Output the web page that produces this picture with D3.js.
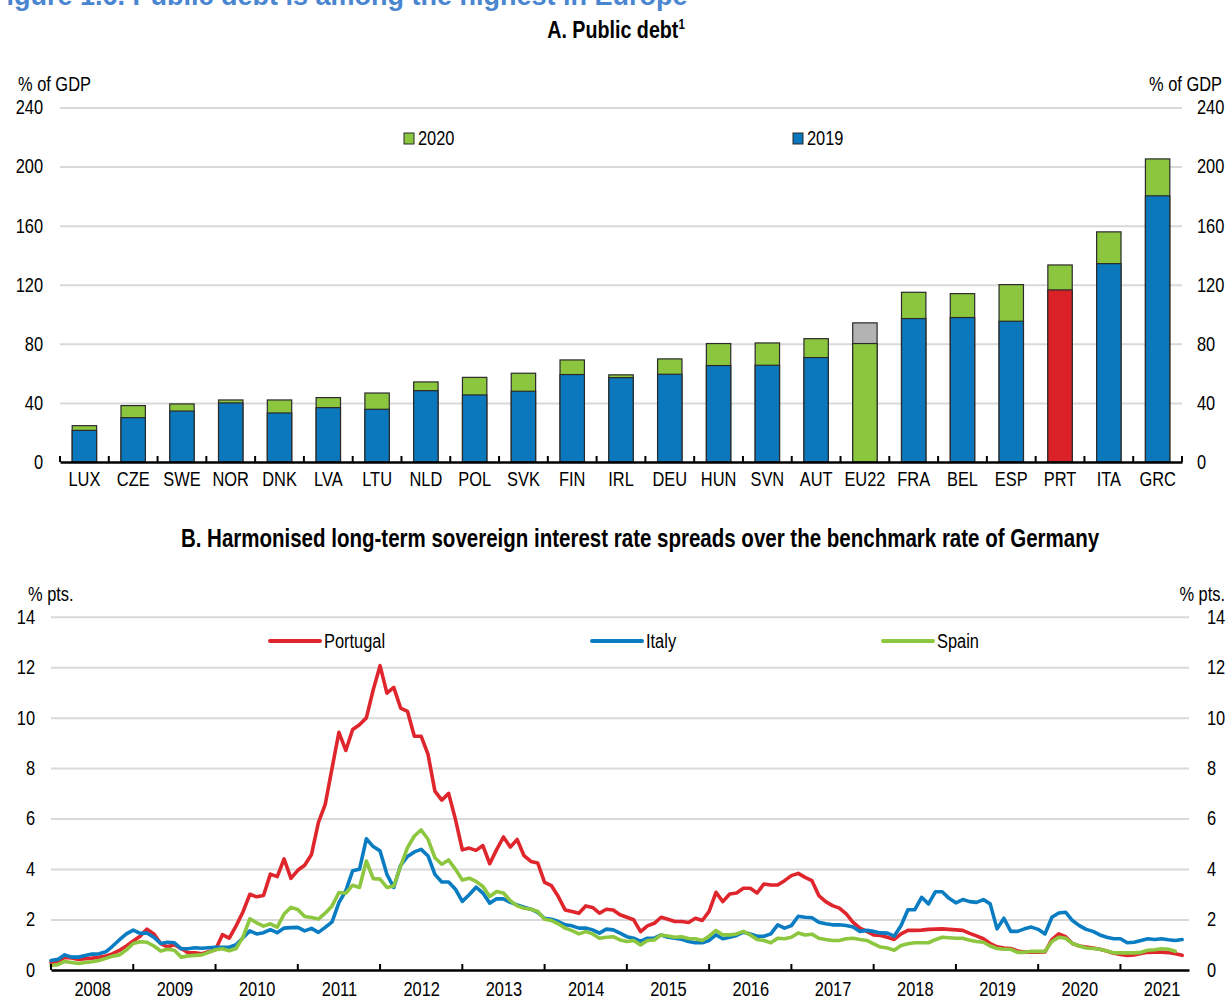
<!DOCTYPE html>
<html><head><meta charset="utf-8">
<script src="https://cdn.jsdelivr.net/npm/d3@7"></script>
<style>
body{margin:0;background:#fff}
svg{display:block}
text{font-family:"Liberation Sans Narrow","Arial Narrow","Liberation Sans",Arial,sans-serif;fill:#000}
</style></head>
<body><svg id="c" width="1229" height="996"></svg>
<script>
// ---------- DATA ----------
const categories = ["LUX","CZE","SWE","NOR","DNK","LVA","LTU","NLD","POL","SVK","FIN","IRL","DEU","HUN","SVN","AUT","EU22","FRA","BEL","ESP","PRT","ITA","GRC"];
const debt2019 = [21.4,30.0,34.5,40.0,33.2,36.8,35.7,48.3,45.4,47.9,59.2,57.1,59.4,65.3,65.5,70.7,80.2,97.1,97.8,95.3,116.5,134.3,180.2];
const debt2020 = [24.6,38.2,39.3,42.0,42.0,43.6,46.7,54.2,57.3,60.1,69.1,59.0,69.8,80.2,80.6,83.5,94.2,114.9,114.0,120.1,133.4,155.8,205.2];
const debtTicks = [0,40,80,120,160,200,240];
const seriesA = ["2020","2019"];

const years = [2008,2009,2010,2011,2012,2013,2014,2015,2016,2017,2018,2019,2020,2021];
const spreadTicks = [0,2,4,6,8,10,12,14];
const seriesB = ["Portugal","Italy","Spain"];
// monthly, Jan 2008 onwards
const portugal = [
0.30,0.34,0.50,0.48,0.42,0.45,0.47,0.50,0.55,0.65,0.78,0.95,
1.15,1.34,1.62,1.43,1.05,0.92,1.00,0.85,0.68,0.68,0.64,0.72,
0.80,1.40,1.26,1.75,2.30,3.00,2.90,2.95,3.80,3.70,4.40,3.63,
3.95,4.15,4.58,5.84,6.56,8.00,9.42,8.70,9.53,9.72,9.99,11.10,
12.06,10.97,11.20,10.38,10.25,9.26,9.26,8.54,7.09,6.73,7.00,5.97,
4.76,4.83,4.74,4.93,4.21,4.77,5.27,4.87,5.17,4.53,4.30,4.24,
3.47,3.34,2.91,2.38,2.32,2.25,2.54,2.48,2.25,2.41,2.38,2.19,
2.09,1.99,1.52,1.75,1.85,2.09,2.01,1.92,1.92,1.88,2.05,1.96,
2.32,3.08,2.71,3.01,3.05,3.24,3.24,3.05,3.41,3.37,3.37,3.54,
3.74,3.83,3.67,3.54,2.95,2.71,2.55,2.45,2.22,1.89,1.66,1.53,
1.39,1.37,1.30,1.21,1.43,1.57,1.57,1.58,1.61,1.62,1.63,1.61,
1.59,1.57,1.45,1.35,1.24,1.05,0.92,0.87,0.85,0.75,0.71,0.71,
0.71,0.72,1.20,1.43,1.32,1.05,0.95,0.91,0.87,0.82,0.75,0.66,
0.62,0.58,0.60,0.65,0.70,0.71,0.71,0.69,0.64,0.58];
const italy = [
0.38,0.42,0.60,0.51,0.51,0.57,0.63,0.64,0.72,0.95,1.20,1.43,
1.58,1.45,1.47,1.30,1.05,1.10,1.08,0.84,0.84,0.88,0.86,0.88,
0.90,0.90,0.90,1.00,1.28,1.55,1.43,1.48,1.60,1.48,1.66,1.68,
1.69,1.55,1.65,1.49,1.69,1.91,2.67,3.14,3.93,3.99,5.20,4.89,
4.72,3.79,3.27,4.15,4.50,4.68,4.78,4.52,3.79,3.49,3.49,3.20,
2.72,2.98,3.28,3.05,2.65,2.82,2.82,2.68,2.58,2.49,2.41,2.28,
2.05,2.01,1.92,1.79,1.75,1.66,1.66,1.59,1.46,1.62,1.59,1.46,
1.32,1.26,1.13,1.26,1.26,1.39,1.30,1.26,1.22,1.13,1.08,1.08,
1.17,1.39,1.24,1.30,1.37,1.50,1.43,1.34,1.34,1.43,1.79,1.66,
1.76,2.13,2.09,2.07,1.89,1.83,1.79,1.79,1.76,1.70,1.53,1.57,
1.53,1.47,1.46,1.34,1.76,2.39,2.39,2.88,2.62,3.10,3.10,2.84,
2.66,2.79,2.71,2.68,2.79,2.62,1.63,2.05,1.53,1.53,1.63,1.70,
1.61,1.43,2.09,2.26,2.29,1.96,1.76,1.61,1.53,1.39,1.30,1.24,
1.24,1.08,1.10,1.17,1.24,1.21,1.24,1.20,1.17,1.21];
const spain = [
0.18,0.21,0.34,0.30,0.26,0.30,0.33,0.38,0.46,0.55,0.60,0.80,
1.05,1.12,1.10,0.95,0.75,0.82,0.78,0.51,0.56,0.58,0.60,0.70,
0.80,0.84,0.76,0.85,1.30,2.03,1.87,1.74,1.83,1.70,2.22,2.48,
2.40,2.12,2.08,2.02,2.25,2.54,3.07,3.04,3.36,3.27,4.32,3.62,
3.60,3.27,3.33,4.12,4.85,5.31,5.55,5.18,4.45,4.19,4.36,3.99,
3.57,3.64,3.51,3.31,2.91,3.11,3.05,2.75,2.54,2.45,2.41,2.32,
2.01,1.96,1.83,1.66,1.56,1.43,1.52,1.43,1.26,1.30,1.32,1.19,
1.13,1.17,0.99,1.17,1.19,1.39,1.35,1.30,1.32,1.25,1.24,1.17,
1.34,1.57,1.39,1.39,1.43,1.53,1.39,1.21,1.17,1.08,1.26,1.24,
1.30,1.47,1.39,1.42,1.26,1.21,1.17,1.17,1.24,1.26,1.21,1.17,
1.04,0.91,0.87,0.78,0.97,1.04,1.08,1.08,1.08,1.20,1.30,1.28,
1.26,1.26,1.18,1.13,1.10,0.95,0.85,0.82,0.82,0.70,0.70,0.74,
0.74,0.74,1.13,1.30,1.26,1.05,0.95,0.87,0.85,0.82,0.75,0.68,
0.68,0.68,0.68,0.70,0.78,0.80,0.84,0.82,0.74];

// ---------- STYLE ----------
const BLUE="#0b77bd", GREEN="#8cc63f", RED="#da2128", GREY="#b3b3b3";
const LBLUE="#0a7dc2", LGREEN="#8dc63f", LRED="#e0262d";
const GRID="#d9d9d9";
const svg = d3.select("#c");

// figure title (cut at top)
svg.append("text").attr("x",-10).attr("y",5)
  .style("font-family","'Liberation Sans',Arial,sans-serif").style("font-weight","bold")
  .style("font-size","27px").style("fill","#4a86d0").attr("class","nocond")
  .text("Figure 1.6. Public debt is among the highest in Europe");

// ---------- PANEL A ----------
const xA = d3.scaleBand().domain(categories).range([60,1182]).paddingInner(0.5).paddingOuter(0.25);
const yA = d3.scaleLinear().domain([0,240]).range([462,107.5]);
const gA = svg.append("g");

const tA = svg.append("text").attr("x",616).attr("y",38).attr("text-anchor","middle")
  .style("font-weight","bold").style("font-size","24px");
tA.append("tspan").text("A. Public debt");
tA.append("tspan").attr("dy",-9).style("font-size","14px").text("1");

// gridlines
gA.append("g").attr("transform","translate(60,0)")
  .call(d3.axisLeft(yA).tickValues(debtTicks.filter(d=>d>0)).tickSize(-(1182-60)).tickFormat(""))
  .call(g=>{g.select(".domain").remove(); g.selectAll("line").attr("stroke",GRID).attr("stroke-width",2);});
// y labels
gA.append("g").attr("transform","translate(46,0)")
  .call(d3.axisLeft(yA).tickValues(debtTicks).tickSize(0).tickPadding(3))
  .call(g=>{g.select(".domain").remove(); g.selectAll("text").style("font-size","20px").attr("fill","#000");});
gA.append("g").attr("transform","translate(1194,0)")
  .call(d3.axisRight(yA).tickValues(debtTicks).tickSize(0).tickPadding(3))
  .call(g=>{g.select(".domain").remove(); g.selectAll("text").style("font-size","20px").attr("fill","#000");});
gA.append("text").attr("x",18).attr("y",91).style("font-size","20px").text("% of GDP");
gA.append("text").attr("x",1222).attr("y",91).attr("text-anchor","end").style("font-size","20px").text("% of GDP");

// bars
const c2020 = c => c==="EU22" ? GREY : GREEN;
const c2019 = c => c==="EU22" ? GREEN : (c==="PRT" ? RED : BLUE);
const barData = categories.map((c,i)=>({c, v19:debt2019[i], v20:debt2020[i]}));
gA.selectAll("rect.b20").data(barData).join("rect").attr("class","b20")
  .attr("x",d=>xA(d.c)).attr("width",xA.bandwidth())
  .attr("y",d=>yA(d.v20)).attr("height",d=>yA(0)-yA(d.v20))
  .attr("fill",d=>c2020(d.c)).attr("stroke","#2a2a2a").attr("stroke-width",1.2);
gA.selectAll("rect.b19").data(barData).join("rect").attr("class","b19")
  .attr("x",d=>xA(d.c)).attr("width",xA.bandwidth())
  .attr("y",d=>yA(d.v19)).attr("height",d=>yA(0)-yA(d.v19))
  .attr("fill",d=>c2019(d.c)).attr("stroke","#2a2a2a").attr("stroke-width",1.2);

// x axis
gA.append("g").attr("transform","translate(0,462)")
  .call(d3.axisBottom(xA).tickSize(0).tickPadding(10))
  .call(g=>{g.select(".domain").attr("stroke","#000").attr("stroke-width",2.5);
            g.selectAll("text").style("font-size","20px").attr("fill","#000");});
const step = xA.step();
const bounds = d3.range(categories.length+1).map(i=> i===0 ? xA.range()[0] : xA(categories[i-1]) + xA.bandwidth() + (step - xA.bandwidth())/2);
gA.selectAll("line.tk").data(bounds).join("line").attr("class","tk")
  .attr("x1",d=>d).attr("x2",d=>d).attr("y1",yA(0)).attr("y2",yA(0)-6)
  .attr("stroke","#000").attr("stroke-width",2);

// legend A
const legA = [{k:seriesA[0],x:404,col:GREEN},{k:seriesA[1],x:793,col:BLUE}];
legA.forEach(l=>{
  gA.append("rect").attr("x",l.x).attr("y",133).attr("width",10).attr("height",11)
    .attr("fill",l.col).attr("stroke","#2a2a2a").attr("stroke-width",1);
  gA.append("text").attr("x",l.x+14).attr("y",145).style("font-size","20px").text(l.k);
});

// ---------- PANEL B ----------
const nM = 166;
const xB = d3.scaleLinear().domain([0,nM]).range([51,1189]);
const yB = d3.scaleLinear().domain([0,14]).range([970,616.7]);
const gB = svg.append("g");

svg.append("text").attr("x",640).attr("y",547).attr("text-anchor","middle")
  .style("font-weight","bold").style("font-size","25px")
  .text("B. Harmonised long-term sovereign interest rate spreads over the benchmark rate of Germany");

gB.append("g").attr("transform","translate(51,0)")
  .call(d3.axisLeft(yB).tickValues(spreadTicks.filter(d=>d>0)).tickSize(-(1189-51)).tickFormat(""))
  .call(g=>{g.select(".domain").remove(); g.selectAll("line").attr("stroke",GRID).attr("stroke-width",2);});
gB.append("g").attr("transform","translate(38,0)")
  .call(d3.axisLeft(yB).tickValues(spreadTicks).tickSize(0).tickPadding(3))
  .call(g=>{g.select(".domain").remove(); g.selectAll("text").style("font-size","20px").attr("fill","#000");});
gB.append("g").attr("transform","translate(1204,0)")
  .call(d3.axisRight(yB).tickValues(spreadTicks).tickSize(0).tickPadding(3))
  .call(g=>{g.select(".domain").remove(); g.selectAll("text").style("font-size","20px").attr("fill","#000");});
gB.append("text").attr("x",28).attr("y",601).style("font-size","20px").text("% pts.");
gB.append("text").attr("x",1225).attr("y",601).attr("text-anchor","end").style("font-size","20px").text("% pts.");

const line = d3.line().defined(d=>d!=null).x((d,i)=>xB(i)).y(d=>yB(d)).curve(d3.curveLinear);
const seriesData = [{k:seriesB[0],v:portugal,col:LRED},{k:seriesB[1],v:italy,col:LBLUE},{k:seriesB[2],v:spain,col:LGREEN}];
gB.selectAll("path.ln").data(seriesData).join("path").attr("class","ln")
  .attr("d",d=>line(d.v)).attr("fill","none").attr("stroke",d=>d.col)
  .attr("stroke-width",3.6).attr("stroke-linejoin","round").attr("stroke-linecap","round");

// x axis B
const yearCenters = years.map((y,i)=>i*12+6);
gB.append("g").attr("transform","translate(0,970)")
  .call(d3.axisBottom(xB).tickValues(yearCenters).tickSize(0).tickPadding(12).tickFormat((d,i)=>years[i]))
  .call(g=>{g.select(".domain").attr("stroke","#000").attr("stroke-width",2.5);
            g.selectAll("text").style("font-size","20px").attr("fill","#000");});
const yearBounds = years.map((y,i)=>i*12);
gB.selectAll("line.tk").data(yearBounds).join("line").attr("class","tk")
  .attr("x1",d=>xB(d)).attr("x2",d=>xB(d)).attr("y1",970).attr("y2",964)
  .attr("stroke","#000").attr("stroke-width",2);

// legend B
const legB = [{x:270,col:LRED,k:seriesB[0]},{x:592,col:LBLUE,k:seriesB[1]},{x:883,col:LGREEN,k:seriesB[2]}];
legB.forEach(l=>{
  gB.append("line").attr("x1",l.x).attr("x2",l.x+50).attr("y1",641).attr("y2",641)
    .attr("stroke",l.col).attr("stroke-width",4).attr("stroke-linecap","round");
  gB.append("text").attr("x",l.x+54).attr("y",648).style("font-size","20px").text(l.k);
});

// condense text if no narrow font installed
(function(){
  const c=document.createElement('canvas').getContext('2d');
  c.font='20px "Liberation Sans Narrow", monospace'; const a=c.measureText('LUX CZE 2020 abc').width;
  c.font='20px monospace'; const b=c.measureText('LUX CZE 2020 abc').width;
  if (Math.abs(a-b)>0.5) return;
  d3.selectAll("text").filter(function(){return !this.classList.contains("nocond");}).each(function(){
    const w=this.getComputedTextLength();
    d3.select(this).attr("textLength",w*0.82).attr("lengthAdjust","spacingAndGlyphs");
  });
})();
</script></body></html>
